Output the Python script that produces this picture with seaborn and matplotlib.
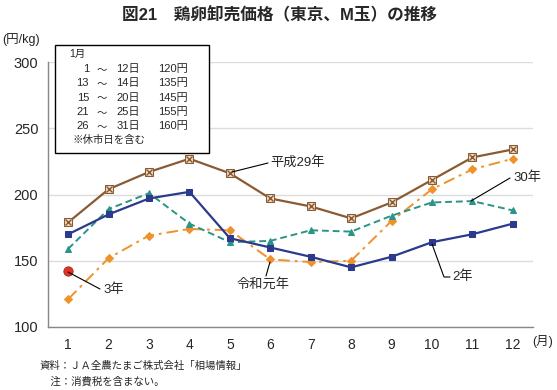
import numpy as np
import pandas as pd
import matplotlib
matplotlib.use("Agg")
import matplotlib.pyplot as plt
import seaborn as sns
from matplotlib.patches import Rectangle

months = list(range(1, 13))
h29 = [179, 204, 217, 227, 216, 197, 191, 182, 194, 211, 228, 234]
h30 = [159, 189, 201, 178, 164, 165, 173, 172, 184, 194, 195, 188]
r1 = [121, 152, 169, 174, 173, 151, 149, 150, 180, 204, 219, 227]
r2 = [170, 185, 197, 202, 167, 160, 153, 145, 153, 164, 170, 178]
r3 = [142]

inset_rows = [("1", "12日", "120円"), ("13", "14日", "135円"), ("15", "20日", "145円"),
              ("21", "25日", "155円"), ("26", "31日", "160円")]

sns.set_theme(style="white")
plt.rcParams['font.family'] = ['Liberation Sans', 'Noto Sans CJK JP', 'DejaVu Sans']

W, H = 557, 390
fig = plt.figure(figsize=(W / 100, H / 100), dpi=100)
ax = fig.add_axes([48 / W, 1 - 327 / H, (533 - 48) / W, (327 - 62) / H])

def px(x, y):
    return x / W, 1 - y / H

brown = "#8B5A33"
navy = "#2B3A8C"
teal = "#2A9485"
orange = "#F0922B"
red = "#E03428"

df = pd.DataFrame({"month": months, "h29": h29, "h30": h30, "r1": r1, "r2": r2})

sns.lineplot(data=df, x="month", y="r1", ax=ax, color=orange, lw=1.4,
             linestyle=(0, (6, 2.5, 1.5, 2.5)), marker="D", markersize=3.8,
             markeredgecolor=orange)
sns.lineplot(data=df, x="month", y="h30", ax=ax, color=teal, lw=1.4,
             linestyle=(0, (3.5, 2)), marker="^", markersize=5,
             markeredgecolor=teal)
sns.lineplot(data=df, x="month", y="r2", ax=ax, color=navy, lw=1.6,
             marker="s", markersize=5, markeredgecolor=navy)
sns.lineplot(data=df, x="month", y="h29", ax=ax, color=brown, lw=1.6,
             marker="s", markersize=5.5, markerfacecolor="#eadcc4",
             markeredgecolor=brown)
ax.plot(months, h29, linestyle="none", marker="x", markersize=4.5,
        color=brown, markeredgewidth=1.0)
sns.scatterplot(x=months[:1], y=r3, ax=ax, color=red, s=45,
                edgecolor="#b02018", linewidth=0.6, zorder=5)

ax.set_xlim(0.5, 12.5)
ax.set_ylim(100, 300)
ax.set_xticks(months)
ax.set_xticks(np.arange(0.5, 13, 1), minor=True)
ax.set_yticks([100, 150, 200, 250, 300])
ax.tick_params(axis="x", which="major", length=0, pad=8, labelsize=10)
ax.tick_params(axis="x", which="minor", length=4, color="#888888", direction="out")
ax.tick_params(axis="y", length=0, pad=7, labelsize=10.5)
ax.set_xlabel("")
ax.set_ylabel("")
ax.grid(axis="y", color="#dcdcdc", lw=1)
ax.set_axisbelow(True)
for s in ["top", "right"]:
    ax.spines[s].set_visible(False)
for s in ["left", "bottom"]:
    ax.spines[s].set_color("#888888")
    ax.spines[s].set_linewidth(1)

# title and labels
fig.text(*px(280, 14), "図21　鶏卵卸売価格（東京、M玉）の推移", ha="center", va="center",
         fontsize=12, fontweight="bold")
fig.text(*px(2, 40), "(円/kg)", ha="left", va="center", fontsize=9)
fig.text(*px(532, 341), "(月)", ha="left", va="center", fontsize=9)
fig.text(*px(40, 366), "資料：ＪＡ全農たまご株式会社「相場情報」", ha="left", va="center", fontsize=7.5)
fig.text(*px(40, 381), "　注：消費税を含まない。", ha="left", va="center", fontsize=7.5)

# inset box
fig.patches.append(Rectangle(px(55, 153), 154 / W, 108 / H, transform=fig.transFigure,
                             facecolor="white", edgecolor="black", lw=1, zorder=3))
fig.text(*px(69, 54), "1月", ha="left", va="center", fontsize=7.5, zorder=4)
for i, (a, b, c) in enumerate(inset_rows):
    y = 69 + i * 14.3
    fig.text(*px(89, y), a, ha="right", va="center", fontsize=8, zorder=4)
    fig.text(*px(102, y), "～", ha="center", va="center", fontsize=7.5, zorder=4)
    fig.text(*px(140, y), b, ha="right", va="center", fontsize=8, zorder=4)
    fig.text(*px(188, y), c, ha="right", va="center", fontsize=8, zorder=4)
fig.text(*px(73, 140), "※休市日を含む", ha="left", va="center", fontsize=7.5, zorder=4)

# annotations
def ann(points, text, tx, ty, ha="left"):
    xs = [p[0] for p in points]
    ys = [p[1] for p in points]
    fx = [x / W for x in xs]
    fy = [1 - y / H for y in ys]
    fig.add_artist(plt.Line2D(fx, fy, transform=fig.transFigure, color="black", lw=0.8))
    fig.text(*px(tx, ty), text, ha=ha, va="center", fontsize=9.5)

ann([(232, 172), (268, 163)], "平成29年", 270, 162)
ann([(471, 201), (510, 178)], "30年", 513, 178)
ann([(432, 244), (444, 277), (450, 277)], "2年", 452, 277)
ann([(270, 262), (266, 276)], "令和元年", 237, 284)
ann([(68, 272), (100, 289)], "3年", 103, 290)

fig.savefig("out.png", dpi=100)
